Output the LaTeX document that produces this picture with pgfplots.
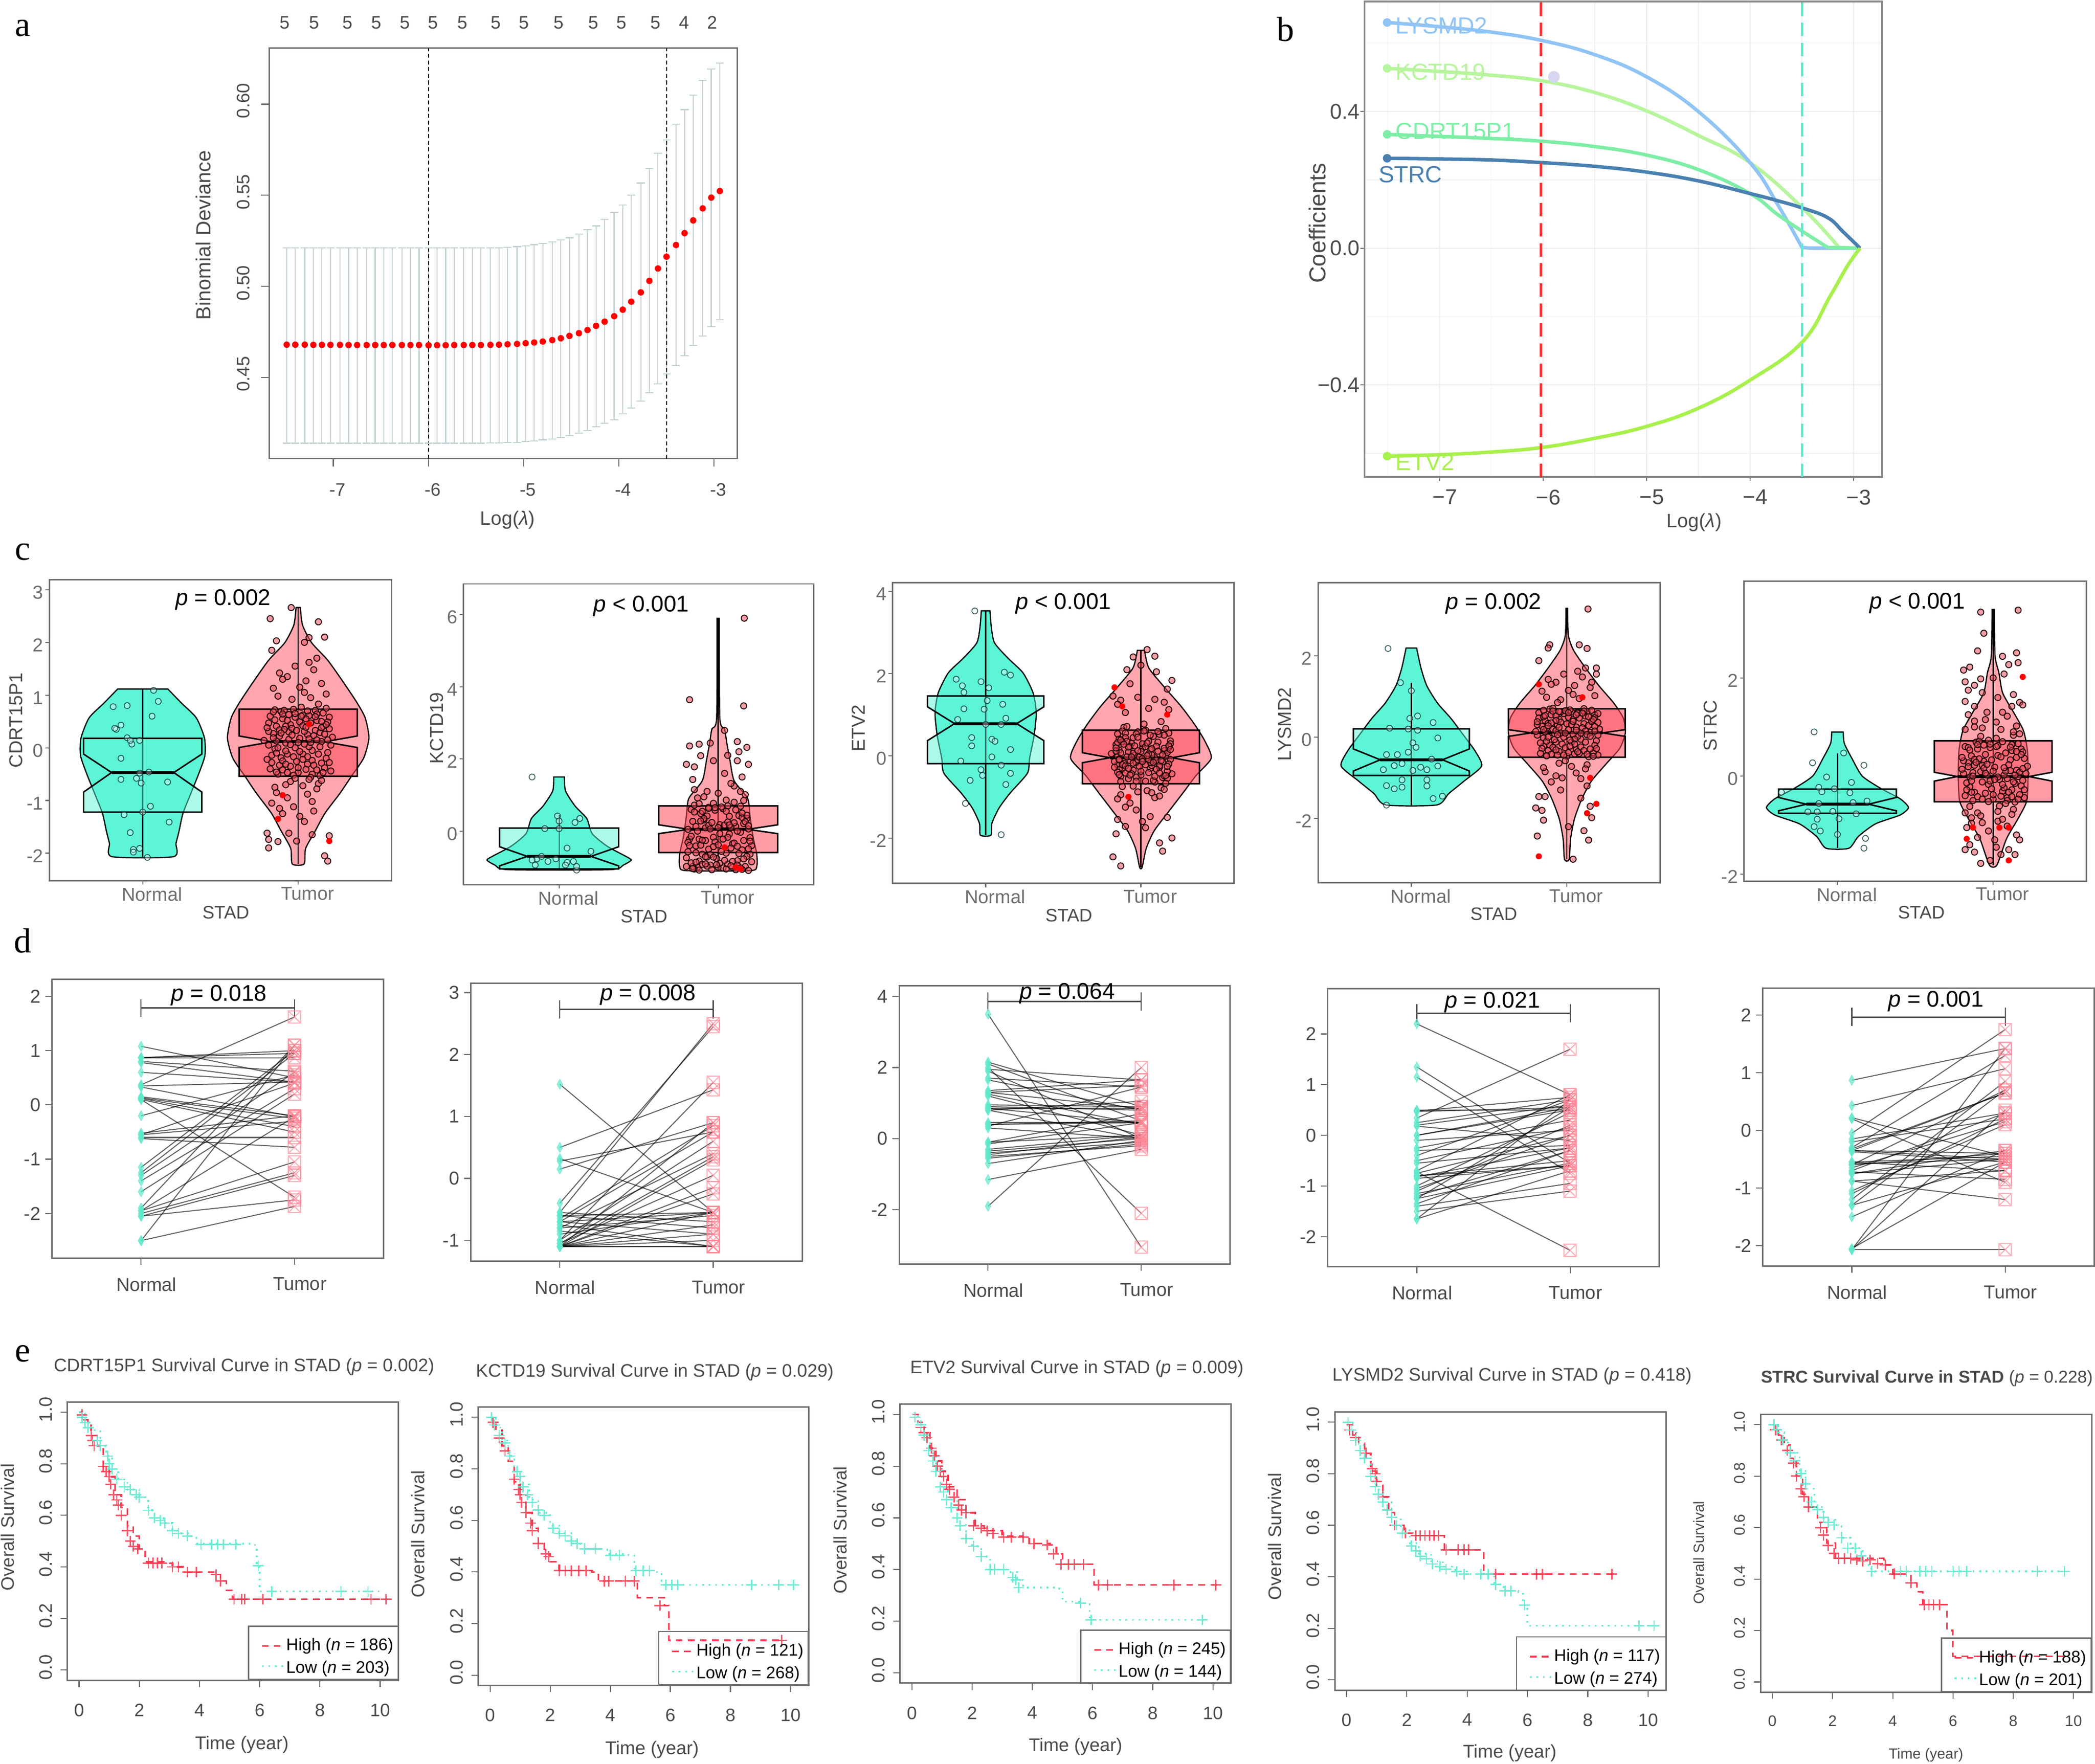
\documentclass[border=0pt]{standalone}
\usepackage{fontspec}
\setmainfont{Liberation Sans}
\newfontfamily\serif{Liberation Serif}
\usepackage{pgfplots}
\usepackage{pgfplotstable}
\pgfplotsset{compat=1.18}
\definecolor{frame}{HTML}{6E6E6E}
\definecolor{tickc}{HTML}{4A4A4A}
\definecolor{grd}{HTML}{E8EEEC}
\definecolor{tealf}{HTML}{5CF5D6}
\definecolor{redf}{HTML}{FF4A5C}
\definecolor{violr}{HTML}{FFA6AE}
\definecolor{barc}{HTML}{C4D2D4}
\definecolor{mkN}{HTML}{5FE8CC}
\definecolor{mkT}{HTML}{FF8595}
\definecolor{ptTf}{HTML}{E8505F}
\definecolor{kmr}{HTML}{FF3850}
\definecolor{kmc}{HTML}{63EBD2}
\definecolor{lysc}{HTML}{8FC4F5}
\definecolor{kctc}{HTML}{B7F59C}
\definecolor{cdrc}{HTML}{7EEEA6}
\definecolor{strc}{HTML}{4A80B0}
\definecolor{etvc}{HTML}{A8F04C}
\definecolor{dotc}{HTML}{D6D6EE}

\pgfdeclareplotmark{sqx}{%
  \pgfpathrectangle{\pgfpoint{-\pgfplotmarksize}{-\pgfplotmarksize}}{\pgfpoint{2\pgfplotmarksize}{2\pgfplotmarksize}}%
  \pgfpathmoveto{\pgfpoint{-\pgfplotmarksize}{-\pgfplotmarksize}}\pgfpathlineto{\pgfpoint{\pgfplotmarksize}{\pgfplotmarksize}}%
  \pgfpathmoveto{\pgfpoint{-\pgfplotmarksize}{\pgfplotmarksize}}\pgfpathlineto{\pgfpoint{\pgfplotmarksize}{-\pgfplotmarksize}}%
  \pgfusepathqstroke}

\pgfplotsset{
  table/row sep=\\,
  place/.style n args={4}{anchor=south west,at={(#1pt,1320pt-#2pt)},width=#3pt,height=#4pt,scale only axis},
  fr/.style={axis line style={draw=frame,line width=1.1pt},tick style={draw=frame,line width=.8pt},
    tick pos=left,tick align=outside,major tick length=5pt,
    /pgf/number format/assume math mode=true,
    tick label style={font=\fontsize{13.5}{15}\selectfont,text=tickc}},
  vio/.style={fr,xmin=.4,xmax=2.6,xtick={1,2},xticklabels={Normal,Tumor},
    tick label style={font=\fontsize{14}{16}\selectfont,text=tickc!80},
    xticklabel style={xshift=7pt,yshift=1.5pt},yticklabel style={yshift=-2pt,xshift=2pt},major tick length=3pt},
  pair/.style={fr,xmin=.42,xmax=2.58,xtick={1,2},xticklabels={Normal,Tumor},
    xticklabel style={xshift=4pt,yshift=-6pt},major tick length=5pt,
    tick label style={font=\fontsize{14}{16}\selectfont,text=tickc}},
  km/.style={fr,xmin=-.39,xmax=10.6,ymin=-.04,ymax=1.04,xtick={0,2,...,10},ytick={0,.2,.4,.6,.8,1},
    yticklabel style={rotate=90,anchor=south,xshift=2pt,yshift=3pt,/pgf/number format/fixed,/pgf/number format/fixed zerofill,/pgf/number format/precision=1},
    xticklabel style={yshift=-9pt}},
  vN/.style={draw=black,line width=.9pt,fill=tealf,smooth,tension=.4},
  vT/.style={draw=black,line width=.9pt,fill=violr,smooth,tension=.4},
  bN/.style={draw=black,line width=1.1pt,fill=tealf,fill opacity=.5},
  bT/.style={draw=black,line width=1.1pt,fill=redf,fill opacity=.55},
  lnk/.style={draw=black,draw opacity=.62,line width=.75pt},
  crv/.style={line width=2.6pt,smooth,tension=.7},
}
\newcommand\T[4][]{\node[inner sep=0pt,#1] at (#2pt,1320pt-#3pt) {#4};}
\newcommand\fz[1]{\fontsize{#1}{#1}\selectfont}
\newcommand\wh[3]{\addplot[black,line width=.9pt] coordinates {(#1,#2)(#1,#3)};}
% style, centre, half width, notch half width, q1, notch low, median, notch high, q3
\newcommand\nbox[9]{%
  \addplot[#1] table[x expr=\thisrow{w}+#2]{w y\\-#3 #9\\#3 #9\\#3 #8\\#4 #7\\#3 #6\\#3 #5\\-#3 #5\\-#3 #6\\-#4 #7\\-#3 #8\\} --cycle;
  \addplot[black,line width=2.2pt] table[x expr=\thisrow{w}+#2]{w y\\-#4 #7\\#4 #7\\};}
\newcommand\ptN[1]{\addplot[only marks,mark=*,mark size=2.2,mark options={fill=white,fill opacity=.35,draw=black!60!teal,draw opacity=.8,line width=.6pt}] coordinates {#1};}
\newcommand\ptT[1]{\addplot[only marks,mark=*,mark size=2.3,mark options={fill=ptTf,fill opacity=.55,draw=black!90!red,draw opacity=.95,line width=.7pt}] coordinates {#1};}
\newcommand\ptR[1]{\addplot[only marks,mark=*,mark size=2.1,color=red,mark options={fill=red,draw=red}] coordinates {#1};}
\newcommand\pairs[4]{% table, bracket y, lo, hi
  \addplot[quiver={u=1,v=\thisrow{t}-\thisrow{n}},lnk] table[x expr=1,y=n]{#1};
  \addplot[only marks,mark=diamond*,mark size=3.8,color=mkN,mark options={xscale=.75,fill=mkN,draw=mkN,opacity=.7}] table[x expr=1,y=n]{#1};
  \addplot[only marks,mark=sqx,mark size=4.6,color=mkT,mark options={draw=mkT,draw opacity=.65,line width=.8pt}] table[x expr=2,y=t]{#1};
  \addplot[tickc,line width=1pt] coordinates {(1,#2)(2,#2)};
  \addplot[tickc,line width=.8pt] coordinates {(1,#3)(1,#4)};
  \addplot[tickc,line width=.8pt] coordinates {(2,#3)(2,#4)};}
\newcommand\kmcurve[4]{%
  \addplot[kmr,const plot,dash pattern=on 5pt off 4pt,line width=1.2pt] coordinates {#1};
  \addplot[only marks,mark=+,mark size=4,color=kmr,mark options={draw=kmr,draw opacity=.85,line width=1pt}] coordinates {#2};
  \addplot[kmc,const plot,dash pattern=on 1.3pt off 3.6pt,line width=1.2pt] coordinates {#3};
  \addplot[only marks,mark=+,mark size=4,color=kmc,mark options={draw=kmc,draw opacity=.9,line width=1pt}] coordinates {#4};}
% legend box at right and bottom edge
\newcommand\kmt[4]{%
  \draw[frame,line width=1pt] (#1pt-112pt,1320pt-#2pt) rectangle ++(112pt,40pt);
  \draw[kmr,line width=1.2pt,dash pattern=on 5pt off 4pt] (#1pt-102pt,1320pt-#2pt+25.2pt) -- ++(17pt,0);
  \draw[kmc,line width=1.2pt,dash pattern=on 1.3pt off 3.6pt] (#1pt-102pt,1320pt-#2pt+10pt) -- ++(17pt,0);
  \node[inner sep=0pt,anchor=west] at (#1pt-84pt,1320pt-#2pt+25pt) {\fz{12.6}High (\textit{n} = #3)};
  \node[inner sep=0pt,anchor=west] at (#1pt-84pt,1320pt-#2pt+8pt) {\fz{12.6}Low (\textit{n} = #4)};}

\pgfplotstableread[row sep=\\]{
  x y hi lo\\
  -7.49 .4680 .5212 .4139\\-7.40 .4680 .5212 .4139\\-7.30 .4680 .5212 .4139\\-7.21 .4679 .5212 .4139\\-7.12 .4679 .5212 .4139\\
  -7.03 .4679 .5212 .4139\\-6.93 .4679 .5212 .4139\\-6.84 .4678 .5212 .4139\\-6.75 .4678 .5212 .4139\\-6.65 .4678 .5212 .4139\\
  -6.56 .4678 .5212 .4139\\-6.47 .4678 .5212 .4139\\-6.38 .4678 .5212 .4139\\-6.28 .4678 .5212 .4139\\-6.19 .4678 .5212 .4139\\
  -6.10 .4678 .5212 .4139\\-6.00 .4677 .5212 .4139\\-5.91 .4677 .5212 .4139\\-5.82 .4677 .5212 .4139\\-5.73 .4678 .5212 .4139\\
  -5.63 .4678 .5212 .4139\\-5.54 .4678 .5212 .4139\\-5.45 .4678 .5212 .4139\\-5.35 .4679 .5212 .4140\\
  -5.26 .4680 .5212 .4141\\-5.17 .4682 .5214 .4143\\-5.07 .4684 .5218 .4144\\-4.98 .4688 .5222 .4148\\-4.89 .4692 .5229 .4152\\
  -4.80 .4697 .5235 .4158\\-4.70 .4705 .5244 .4163\\-4.61 .4715 .5254 .4171\\-4.52 .4728 .5267 .4181\\-4.42 .4743 .5288 .4194\\
  -4.33 .4760 .5311 .4209\\-4.24 .4783 .5332 .4230\\-4.15 .4806 .5368 .4249\\-4.05 .4836 .5406 .4268\\-3.96 .4872 .5446 .4299\\
  -3.87 .4916 .5501 .4333\\-3.77 .4967 .5567 .4371\\-3.68 .5030 .5647 .4416\\-3.59 .5098 .5730 .4466\\-3.50 .5163 .5804 .4519\\
  -3.40 .5227 .5890 .4565\\-3.31 .5292 .5970 .4618\\-3.22 .5362 .6051 .4675\\-3.12 .5428 .6131 .4728\\-3.03 .5487 .6194 .4779\\-2.94 .5523 .6226 .4817\\}\cvA

\pgfplotstableread[row sep=\\]{n t\\
1.08 .5\\.87 .87\\.87 .95\\.87 1.0\\.8 .62\\.78 .42\\.6 .42\\.37 1.62\\.35 .42\\.33 -.22\\.15 -.2\\.13 -.25\\.12 -.4\\.1 -1.7\\.1 -.5\\-.2 .55\\-.52 -.2\\-.55 .4\\-.55 -.3\\-.6 -.6\\-.62 -.78\\-1.15 1.0\\-1.25 .95\\-1.3 .6\\-1.4 .3\\-1.6 .2\\-1.9 1.1\\-1.95 -.22\\-1.95 -1.05\\-2.0 -1.25\\-2.05 -1.3\\-2.05 -1.75\\-2.5 1.1\\-2.5 -1.87\\}\dA
\pgfplotstableread[row sep=\\]{n t\\
1.52 -.55\\.5 1.43\\.32 -.55\\.28 .75\\.15 .9\\-.4 2.45\\-.55 2.5\\-.55 -.7\\-.6 -.55\\-.6 -.8\\-.65 .85\\-.7 .75\\-.7 -.9\\-.7 -.55\\-.75 -1.1\\-.8 .4\\-.8 -.6\\-.85 -1.1\\-.9 -.55\\-1.0 1.55\\-1.0 .6\\-1.05 .35\\-1.05 .05\\-1.1 -.15\\-1.1 -.25\\-1.1 .9\\-1.1 -.55\\-1.1 -.75\\-1.1 -1.1\\-1.1 -1.1\\-1.1 -.9\\-1.1 -1.0\\-1.1 .3\\}\dB
\pgfplotstableread[row sep=\\]{n t\\
3.5 -3.05\\2.15 .9\\2.1 .5\\2.0 -2.1\\1.95 1.65\\1.9 0\\1.7 1.45\\1.65 .8\\1.35 1.65\\1.3 1.5\\1.3 .85\\1.25 .4\\1.2 .1\\.95 .9\\.9 .8\\.85 .85\\.85 .45\\.8 1.05\\.8 0\\.45 .45\\.4 .45\\.4 .5\\.35 1.45\\.3 0\\-.1 .7\\-.1 .1\\-.15 .45\\-.3 .1\\-.35 0\\-.4 -.1\\-.45 .05\\-.5 -.2\\-.55 -.15\\-.7 -.05\\-1.15 -.3\\-1.9 2.0\\}\dC
\pgfplotstableread[row sep=\\]{n t\\
2.2 .8\\1.35 -.55\\1.15 -.75\\.5 .5\\.48 .75\\.47 .55\\.34 1.7\\.25 .7\\.2 .6\\.18 -.1\\0 .55\\0 .5\\-.1 .1\\-.25 .3\\-.3 -.2\\-.4 .7\\-.5 .15\\-.55 -.25\\-.7 .8\\-.72 -2.27\\-.75 0\\-.8 -.6\\-.8 -.5\\-.82 -.25\\-.85 -.6\\-1 .45\\-1.05 0\\-1.1 .2\\-1.15 -.55\\-1.2 -.3\\-1.25 -.6\\-1.25 .55\\-1.35 -.3\\-1.4 -.95\\-1.5 -1.1\\-1.65 .7\\-1.65 -.7\\}\dD
\pgfplotstableread[row sep=\\]{n t\\
.87 1.42\\.43 1.07\\.22 -.45\\.2 -.9\\-.05 1.75\\-.15 .3\\-.2 .2\\-.3 1.3\\-.32 .65\\-.35 .65\\-.35 -.5\\-.35 -.4\\-.37 -.55\\-.55 -.45\\-.55 -.7\\-.58 -.5\\-.6 -.4\\-.6 .7\\-.65 .15\\-.7 .3\\-.72 -.85\\-.75 -.35\\-.75 -.5\\-.88 -.7\\-.88 -1.2\\-1.05 .1\\-1.1 .2\\-1.2 .85\\-1.3 .7\\-1.3 -.55\\-1.5 -.35\\-2.07 1.42\\-2.07 .35\\-2.07 -2.07\\-2.05 -.55\\}\dE

\begin{document}
\begin{tikzpicture}[x=1pt,y=1pt]
\path[use as bounding box] (0pt,0pt) rectangle (1568pt,1320pt);

% a
\begin{axis}[fr,place={201.6}{343.3}{350.4}{307.3},xmin=-7.672,xmax=-2.754,ymin=.4054,ymax=.6308,
  xtick={-7,-6,-5,-4,-3},ytick={.45,.5,.55,.6},major tick length=6pt,
  yticklabel style={rotate=90,anchor=south,xshift=2.5pt,yshift=5pt,/pgf/number format/fixed,/pgf/number format/fixed zerofill,/pgf/number format/precision=2},
  xticklabel style={xshift=3pt,yshift=-9pt}]
\addplot[only marks,mark=-,mark size=3,color=barc,mark options={draw=barc,line width=.8pt}] table[x=x,y=hi]{\cvA};
\addplot[only marks,mark=-,mark size=3,color=barc,mark options={draw=barc,line width=.8pt}] table[x=x,y=lo]{\cvA};
\addplot[only marks,mark=*,mark size=2.2,color=red,mark options={fill=red,draw=red},
  error bars/.cd,y dir=both,y explicit,error mark=none,error bar style={draw=barc,line width=.8pt}]
  table[x=x,y=y,y error plus expr=\thisrow{hi}-\thisrow{y},y error minus expr=\thisrow{y}-\thisrow{lo}]{\cvA};
\addplot[black,dash pattern=on 3pt off 2pt,line width=.7pt] coordinates {(-6,.4054)(-6,.6308)};
\addplot[black,dash pattern=on 3pt off 2pt,line width=.7pt] coordinates {(-3.5,.4054)(-3.5,.6308)};
\end{axis}

% b
\begin{axis}[fr,place={1021.3}{357}{387.3}{356},xmin=-7.724,xmax=-2.724,ymin=-.669,ymax=.722,
  xtick={-7,-6,-5,-4,-3},xticklabels={−7,−6,−5,−4,−3},ytick={-.4,0,.4},yticklabels={−0.4,0.0,0.4},
  minor xtick={-7.5,-6.5,-5.5,-4.5,-3.5},minor ytick={-.6,-.2,.2,.6},grid=both,
  grid style={draw=grd,line width=.8pt},minor grid style={draw=grd!70,line width=.6pt},
  minor tick length=0pt,major tick length=3pt,axis line style={draw=frame!80,line width=1.4pt},
  tick label style={font=\fz{16},text=tickc},xticklabel style={xshift=4pt,yshift=-3pt},yticklabel style={xshift=3pt}]
\addplot[kctc,crv] coordinates {(-7.506,.526)(-7.01,.517)(-6.5,.506)(-6.02,.49)(-5.52,.457)(-5.01,.403)(-4.5,.33)(-4,.2505)(-3.497,.119)(-3.14,.002)};
\addplot[kctc,line width=2.6pt] coordinates {(-3.14,.002)(-2.936,0)};
\addplot[lysc,crv] coordinates {(-7.506,.66)(-7.01,.648)(-6.5,.632)(-6.02,.608)(-5.52,.568)(-5.01,.503)(-4.5,.4)(-4,.2505)(-3.735,.129)(-3.497,.002)};
\addplot[lysc,line width=2.6pt] coordinates {(-3.497,.002)(-3.395,0)(-2.936,0)};
\addplot[cdrc,crv] coordinates {(-7.506,.333)(-7.01,.327)(-6.5,.321)(-6.02,.313)(-5.52,.298)(-5.01,.273)(-4.5,.23)(-4,.16)(-3.735,.099)(-3.497,.05)(-3.247,.002)};
\addplot[cdrc,line width=2.6pt] coordinates {(-3.247,.002)(-2.936,0)};
\addplot[strc,crv] coordinates {(-7.506,.263)(-7.01,.261)(-6.5,.258)(-6.02,.2505)(-5.52,.24)(-5.01,.223)(-4.5,.197)(-4,.16)(-3.735,.139)(-3.497,.118)(-3.247,.089)(-3.1,.048)(-2.936,0)};
\addplot[etvc,crv] coordinates {(-7.506,-.608)(-7.01,-.604)(-6.5,-.596)(-6.02,-.583)(-5.52,-.557)(-5.01,-.522)(-4.5,-.468)(-4,-.386)(-3.497,-.275)(-3.225,-.14)(-3.055,-.05)(-2.936,0)};
\addplot[only marks,mark=*,mark size=3,lysc] coordinates {(-7.506,.66)};
\addplot[only marks,mark=*,mark size=3,kctc] coordinates {(-7.506,.526)};
\addplot[only marks,mark=*,mark size=3,cdrc] coordinates {(-7.506,.333)};
\addplot[only marks,mark=*,mark size=3,strc] coordinates {(-7.506,.263)};
\addplot[only marks,mark=*,mark size=3,etvc] coordinates {(-7.506,-.608)};
\addplot[only marks,mark=*,mark size=4.2,color=dotc,mark options={fill=dotc,draw=dotc}] coordinates {(-5.895,.501)};
\addplot[color=red!80!white,line width=1.8pt,dash pattern=on 10pt off 5pt] coordinates {(-6.02,-.669)(-6.02,.722)};
\addplot[color=kmc,line width=1.8pt,dash pattern=on 10pt off 5pt] coordinates {(-3.497,-.669)(-3.497,.722)};
\end{axis}

% c
\begin{axis}[vio,place={37}{659}{256}{225},ymin=-2.519,ymax=3.186,ytick={-2,-1,0,1,2,3}]
\addplot[vN] table[x expr=\thisrow{w}+1]{w y\\.162 1.114\\.248 .852\\.345 .567\\.397 .186\\.4 -.148\\.362 -.481\\.31 -.862\\.259 -1.243\\.234 -1.576\\.214 -1.814\\.197 -2.067\\-.197 -2.067\\-.214 -1.814\\-.234 -1.576\\-.259 -1.243\\-.31 -.862\\-.362 -.481\\-.4 -.148\\-.397 .186\\-.345 .567\\-.248 .852\\-.162 1.114\\} --cycle;
\wh{1}{1.11}{-2.07}
\nbox{bN}{1}{.38}{.2}{-1.22}{-.84}{-.47}{-.12}{.18}
\ptN{(1.07,1.09)(1.1,.88)(.81,.78)(.9,.8)(1.06,.6)(.86,.43)(.83,.35)(.9,.19)(.98,.14)(.93,.07)(.86,-.2)(1.04,-.46)(.98,-.48)(.86,-.6)(.96,-.58)(.99,-.67)(1.16,-.65)(1.05,-1.11)(1,-1.22)(.88,-1.27)(1.17,-1.41)(.92,-1.61)(.94,-1.93)(.98,-1.91)(1.03,-2.08)(.94,-1.98)(.92,.14)(.82,.37)}
\addplot[vT] table[x expr=\thisrow{w}+2]{w y\\.014 2.662\\.028 2.329\\.086 1.995\\.19 1.662\\.293 1.233\\.379 .852\\.431 .567\\.455 .186\\.421 -.195\\.345 -.529\\.269 -.862\\.172 -1.243\\.11 -1.576\\.048 -1.91\\.038 -2.205\\-.038 -2.205\\-.048 -1.91\\-.11 -1.576\\-.172 -1.243\\-.269 -.862\\-.345 -.529\\-.421 -.195\\-.455 .186\\-.431 .567\\-.379 .852\\-.293 1.233\\-.19 1.662\\-.086 1.995\\-.028 2.329\\-.014 2.662\\} --cycle;
\wh{2}{2.66}{-2.2}
\nbox{bT}{2}{.38}{.17}{-.54}{.005}{.114}{.224}{.733}
\ptT{(1.955,2.66)(1.82,2.45)(2.13,2.39)(2.17,2.1)(1.86,2.03)(1.83,1.85)(2.07,2.09)(2.04,2)(1.8,-1.62)(1.81,-1.74)(1.87,-1.78)(1.81,-1.9)(2.2,-1.67)(2.17,-2.05)(2.19,-2.15)(2.09,-1.65)(1.99,-1.77)(1.94,-1.62)
(2.03,.62)(1.86,.41)(2.18,.75)(1.93,-.12)(2.11,.33)(1.81,.05)(2.06,-.31)(1.98,.58)(2.15,.12)(1.89,.69)(2.21,-.44)(1.84,.27)(2.09,-.05)(1.95,.44)(2.13,.83)(1.8,-.22)(2.01,.18)(2.17,-.38)(1.91,.71)(2.07,.02)(1.87,-.5)(2.2,.36)(1.97,-.17)(2.12,.52)(1.82,.6)(2.05,-.41)(1.92,.09)(2.16,.66)(1.88,-.33)(2.1,.23)(1.78,.14)(2.02,.77)(2.19,-.09)(1.94,.3)(2.14,-.53)(1.85,-.02)(2.08,.47)(1.99,-.26)(2.22,.2)(1.9,.55)
(1.96,.37)(2.14,.29)(1.83,-.14)(2.04,.07)(1.9,-.42)(2.11,.71)(1.86,.13)(2.18,-.2)(2.0,-.47)(1.93,.52)(2.07,.61)(1.81,.47)(2.16,.41)(1.98,.0)(2.09,-.24)(1.88,.34)(2.03,-.12)(2.2,.58)(1.95,-.35)(2.12,.15)(1.85,.72)(2.06,.25)(1.92,-.06)(2.15,-.29)(2.01,.49)(1.89,-.19)
(1.84,.68)(2.12,.64)(1.97,.73)(2.06,.7)(1.9,.64)(2.19,.49)(1.81,.31)(2.03,.42)(1.94,.16)(2.15,.38)(2.08,.1)(1.88,.22)(1.99,.33)(2.21,.05)(1.83,-.28)(2.05,.55)(1.92,.41)(2.17,.26)(2.01,-.07)(1.86,-.1)(2.13,-.12)(1.95,.06)(2.1,-.33)(1.8,.38)(2.04,.31)(1.9,-.25)(2.18,.44)(1.98,.65)(2.07,.17)(1.85,.53)(2.14,.02)(2.0,-.38)(1.93,-.47)(2.09,-.5)(1.87,.0)(2.2,-.28)(1.96,.24)(2.11,.59)(1.82,-.4)(2.06,-.17)(1.91,.35)(2.16,-.47)(2.02,.6)(1.89,.28)(2.12,-.42)(1.97,-.52)(2.05,.39)(1.94,.63)(2.19,.15)(1.84,.19)(2.08,-.56)(2.0,.1)(1.92,-.31)(2.15,.5)(1.86,-.46)(2.03,-.22)
(2.04,1.05)(1.87,.98)(2.15,1.22)(1.93,1.35)(2.1,1.48)(1.96,.92)(2.18,1.02)(1.84,1.13)(2.07,1.62)(1.9,1.3)(2.12,1.7)(2.01,1.15)(1.98,1.55)(2.05,1.27)(1.88,1.42)(2.08,.95)
(2.03,-.72)(1.86,-.85)(2.13,-.68)(1.93,-.95)(2.09,-1.02)(1.85,-.75)(1.97,-1.12)(2.06,-.88)(1.9,-1.25)(2.12,-.78)(1.83,-1.05)(2.01,-1.3)(2.1,-1.2)(1.95,-.64)(2.04,-1.4)(1.88,-1.15)(2.07,-.6)(1.92,-.7)(2.15,-.62)(1.98,-.58)}
\ptR{(2.2,-1.77)(1.87,-1.35)(1.9,-.9)(2.07,.45)}
\end{axis}

\begin{axis}[vio,place={347}{662}{262}{225},ymin=-1.48,ymax=6.85,ytick={0,2,4,6}]
\addplot[vN] table[x expr=\thisrow{w}+1]{w y\\.034 1.5\\.04 1.117\\.1 .698\\.174 .349\\.208 -.07\\.302 -.419\\.419 -.698\\.453 -.803\\.403 -.942\\.319 -1.068\\-.319 -1.068\\-.403 -.942\\-.453 -.803\\-.419 -.698\\-.302 -.419\\-.208 -.07\\-.174 .349\\-.1 .698\\-.04 1.117\\-.034 1.5\\} --cycle;
\wh{1}{.45}{-1.07}
\nbox{bN}{1}{.374}{.2}{-1.047}{-.963}{-.7}{-.433}{.084}
\ptN{(.83,1.5)(.99,.42)(1,.28)(1.13,.35)(1.1,.24)(.91,.07)(1,.07)(1.05,-.47)(1.2,-.56)(.86,-.77)(.89,-.7)(.85,-.94)(1.05,-.87)(1.09,-.84)(1.11,-1.08)(1.04,-.94)(.98,-.77)(1.11,-.98)(.93,-.84)(.83,-.8)}
\addplot[vT] table[x expr=\thisrow{w}+2]{w y\\.007 5.897\\.01 3.14\\.04 2.826\\.054 2.44\\.074 1.954\\.1 1.396\\.185 .907\\.2 .419\\.218 -.14\\.242 -.628\\.242 -.977\\.2 -1.096\\-.2 -1.096\\-.242 -.977\\-.242 -.628\\-.218 -.14\\-.2 .419\\-.185 .907\\-.1 1.396\\-.074 1.954\\-.054 2.44\\-.04 2.826\\-.01 3.14\\-.007 5.897\\} --cycle;
\wh{2}{5.9}{-1.08}
\nbox{bT}{2}{.374}{.185}{-.593}{-.07}{.05}{.175}{.698}
\ptT{(2.164,5.9)(1.82,3.64)(2.16,3.47)(2.04,2.79)(1.82,2.36)(1.88,2.41)(1.95,2.44)(2.12,2.48)(2.18,2.32)(1.8,1.85)(1.85,1.78)(1.84,1.43)(2.19,1.85)(2.12,1.95)(2.15,1.5)(1.89,2.09)(1.97,1.95)(2.17,1.01)(1.85,1.15)(2.04,1.6)(2.1,1.25)(1.93,1.1)(2.16,.85)(1.87,.92)(2.06,2.1)(2.13,2.2)
(2.03,.62)(1.86,-.41)(2.18,.35)(1.93,-.72)(2.11,.13)(1.81,.05)(2.06,-.91)(1.98,.58)(2.15,-.52)(1.89,.49)(2.2,-.64)(1.84,.27)(2.09,-.35)(1.95,-.94)(2.13,.43)(1.82,-.22)(2.01,.18)(2.17,-.98)(1.91,.31)(2.07,-.08)(1.87,-1.0)(2.19,.06)(1.97,-.17)(2.12,-.82)(1.83,.6)(2.05,-.61)(1.92,.09)(2.16,-.26)(1.88,-.83)(2.1,.23)(1.8,-.74)(2.02,.67)(2.19,-1.09)(1.94,-.5)(2.14,-.03)(1.85,-1.05)(2.08,-.47)(1.99,-.76)(2.21,-.4)(1.9,.55)
(1.96,-1.07)(2.14,.69)(1.83,-.14)(2.04,.17)(1.9,-.92)(2.11,-1.07)(1.86,.13)(2.18,-.7)(2.0,-1.0)(1.93,.42)(2.07,.41)(1.81,-.57)(2.16,.21)(1.98,-.3)(2.09,-.84)(1.88,-1.08)(2.03,-.22)(2.2,-.18)(1.95,-.65)(2.12,.0)(1.85,.72)(2.06,.25)(1.92,-.26)(2.15,-1.06)(2.01,-.89)(1.89,-.39)(1.97,.77)(2.05,.86)(1.91,.95)(2.1,.8)(2.0,1.05)(1.94,.66)(2.14,1.1)(2.08,1.32)(1.88,.76)
(1.84,-.98)(2.12,-.94)(1.97,-.43)(2.06,.7)(1.9,-.64)(2.19,-.49)(1.81,-.31)(2.03,-1.02)(1.94,.16)(2.15,.38)(2.08,.1)(1.88,-.22)(1.99,-.93)(2.21,-.85)(1.83,-.88)(2.05,.55)(1.92,-.71)(2.17,.26)(2.01,-.07)(1.86,-.6)(2.13,-.62)(1.95,.06)(2.1,-.33)(1.8,-.98)(2.04,-.81)(1.9,-.25)(2.18,.44)(1.98,.65)(2.07,.17)(1.85,.53)(2.14,-1.02)(2.0,-.38)(1.93,-.97)(2.09,-1.0)(1.87,.0)(2.2,-.28)(1.96,.24)(2.11,.59)(1.82,-.4)(2.06,-.17)(1.91,.35)(2.16,-.77)(2.02,-.56)(1.89,.28)(2.12,-.42)(1.97,-.72)(2.05,-1.05)(1.94,.63)(2.19,.15)(1.84,-1.04)(2.08,-.96)(2.0,.1)(1.92,-.91)(2.15,.5)(1.86,-.86)(2.03,-.22)}
\ptR{(2.14,-1.05)(2.11,-1.0)(2.04,-.45)}
\end{axis}

\begin{axis}[vio,place={668}{661}{255.6}{225},ymin=-3.1,ymax=4.21,ytick={-2,0,2,4}]
\addplot[vN] table[x expr=\thisrow{w}+1]{w y\\.028 3.524\\.037 3.11\\.057 2.744\\.142 2.378\\.241 2.012\\.306 1.524\\.326 1.037\\.312 .488\\.283 -.061\\.269 -.427\\.156 -.915\\.085 -1.28\\.04 -1.646\\.034 -1.933\\-.034 -1.933\\-.04 -1.646\\-.085 -1.28\\-.156 -.915\\-.269 -.427\\-.283 -.061\\-.312 .488\\-.326 1.037\\-.306 1.524\\-.241 2.012\\-.142 2.378\\-.057 2.744\\-.037 3.11\\-.028 3.524\\} --cycle;
\wh{1}{3.52}{-1.93}
\nbox{bN}{1}{.375}{.2}{-.195}{.366}{.78}{1.189}{1.451}
\ptN{(.93,3.52)(.81,1.86)(.97,1.8)(.85,1.7)(1.02,1.65)(.86,1.54)(1.12,2.03)(1.16,1.96)(1.01,1.34)(1.11,1.25)(.86,1.14)(.99,1.13)(.82,.88)(1.13,.91)(1,.76)(1.1,.76)(.91,.44)(1.04,.4)(1.06,.35)(.91,.24)(1.16,.15)(1.04,-.03)(.84,-.13)(1.1,-.23)(.97,-.34)(.98,-.48)(1.16,-.43)(.9,-.6)(1.13,-.7)(.87,-1.16)(1.1,-1.92)}
\addplot[vT] table[x expr=\thisrow{w}+2]{w y\\.023 2.561\\.051 2.134\\.156 1.646\\.255 1.22\\.34 .793\\.411 .366\\.453 -.061\\.354 -.488\\.269 -.915\\.17 -1.402\\.085 -1.829\\.034 -2.256\\.008 -2.713\\-.008 -2.713\\-.034 -2.256\\-.085 -1.829\\-.17 -1.402\\-.269 -.915\\-.354 -.488\\-.453 -.061\\-.411 .366\\-.34 .793\\-.255 1.22\\-.156 1.646\\-.051 2.134\\-.023 2.561\\} --cycle;
\wh{2}{2.56}{-2.71}
\nbox{bT}{2}{.377}{.2}{-.683}{-.171}{-.049}{.073}{.622}
\ptT{(1.82,-2.46)(1.87,-2.68)(2.14,-2.32)(2.12,-2.12)(2.2,-2)(1.84,-1.9)(2.04,2.58)(2.09,2.42)(2.1,2.04)(1.91,2.09)(2.2,1.83)(1.82,1.45)(1.87,1.35)(2.17,1.62)(2.15,1.3)(1.93,1.75)(2.0,2.2)(1.95,2.4)(2.05,1.15)(1.9,1.05)(2.18,1.12)(1.85,1.25)(1.98,1.42)(2.09,1.37)
(2.03,.62)(1.86,.41)(2.18,.55)(1.93,-.12)(2.11,.33)(1.81,.05)(2.06,-.31)(1.98,.58)(2.15,.12)(1.89,.69)(2.2,-.44)(1.84,.27)(2.09,-.05)(1.95,.44)(2.13,.83)(1.85,-.22)(2.01,.18)(2.17,-.38)(1.91,.71)(2.07,.02)(1.87,-.5)(2.19,.36)(1.97,-.17)(2.12,.52)(1.88,.6)(2.05,-.41)(1.92,.09)(2.16,.66)(1.88,-.33)(2.1,.23)(1.86,.14)(2.02,.77)(2.19,-.09)(1.94,.3)(2.14,-.53)(1.85,-.02)(2.08,.47)(1.99,-.26)(2.18,.2)(1.9,.55)
(1.96,.02)(2.14,-.15)(1.83,-.14)(2.04,-.07)(1.9,-.42)(2.11,.11)(1.86,-.33)(2.18,-.2)(2.0,-.47)(1.93,.22)(2.07,-.24)(1.87,.07)(2.16,-.01)(1.98,-.1)(2.09,-.64)(1.88,.34)(2.03,-.62)(2.17,.08)(1.95,-.35)(2.12,-.28)(1.85,.32)(2.06,.15)(1.92,-.56)(2.15,-.49)(2.01,.29)(1.89,-.19)(1.97,-.52)(2.05,.04)(1.91,-.03)(2.1,-.11)
(1.86,-.08)(2.12,-.24)(1.97,.53)(2.06,.5)(1.9,.44)(2.19,.29)(1.84,.11)(2.03,.22)(1.94,-.44)(2.15,.18)(2.08,-.6)(1.88,-.22)(1.99,-.03)(2.17,-.55)(1.83,-.28)(2.05,.35)(1.92,.21)(2.17,-.26)(2.01,-.07)(1.86,-.1)(2.13,-.12)(1.95,.06)(2.1,-.33)(1.87,.38)(2.04,.31)(1.9,-.25)(2.18,.24)(1.98,.45)(2.07,.17)(1.85,.53)(2.14,.02)(2.0,-.38)(1.93,-.47)(2.09,-.5)(1.87,-.63)(2.16,-.48)(1.96,.24)(2.11,.59)(1.85,-.4)(2.06,-.17)(1.91,.35)(2.16,-.67)(2.02,.6)(1.89,.28)(2.12,-.42)(1.97,-.62)(2.05,-.09)(1.94,-.03)(2.19,.15)(1.84,.19)(2.08,-.16)(2.0,.1)(1.92,-.31)(2.15,.5)(1.86,-.46)(2.03,-.22)(1.95,-.18)(2.01,-.14)(1.98,.12)(2.04,.0)
(2.04,-.85)(1.87,-.95)(2.13,-.78)(1.93,-1.15)(2.09,-1.02)(1.88,-.75)(1.97,-1.32)(2.06,-1.48)(1.9,-1.25)(2.12,-.98)(1.85,-1.55)(2.01,-1.6)(2.17,-1.5)(1.95,-.74)(2.03,-1.75)(1.9,-1.72)(2.07,-.9)(2.15,-.82)(1.85,-1.05)(1.98,-.88)}
\ptR{(1.83,1.66)(1.88,1.2)(1.92,-1.0)(2.17,1.0)}
\end{axis}

\begin{axis}[vio,place={986.5}{660.7}{256}{224.7},ymin=-3.58,ymax=3.8,ytick={-2,0,2}]
\addplot[vN] table[x expr=\thisrow{w}+1]{w y\\.034 2.19\\.062 1.698\\.099 1.265\\.169 .833\\.254 .463\\.339 .031\\.41 -.34\\.452 -.71\\.339 -1.08\\.24 -1.389\\.164 -1.667\\-.164 -1.667\\-.24 -1.389\\-.339 -1.08\\-.452 -.71\\-.41 -.34\\-.339 .031\\-.254 .463\\-.169 .833\\-.099 1.265\\-.062 1.698\\-.034 2.19\\} --cycle;
\wh{1}{1.33}{-1.67}
\nbox{bN}{1}{.373}{.2}{-.944}{-.833}{-.556}{-.29}{.204}
\ptN{(.85,2.18)(.93,1.34)(1,1.14)(1.04,.52)(.99,.46)(1.14,.36)(.86,.22)(.98,.2)(1.04,.17)(1.17,-.02)(1.01,-.14)(1.03,-.25)(.98,-.37)(.84,-.43)(.91,-.43)(1.13,-.54)(.94,-.65)(.89,-.7)(1.17,-.71)(.82,-.8)(1.01,-.82)(1.06,-.74)(1.1,-.8)(.94,-1.05)(1.1,-1.05)(.84,-1.19)(.89,-1.27)(.94,-1.23)(1.1,-1.2)(1.2,-1.45)(1.14,-1.51)(.84,-1.67)}
\addplot[vT] table[x expr=\thisrow{w}+2]{w y\\.005 3.167\\.01 2.5\\.044 2.13\\.121 1.698\\.206 1.265\\.303 .833\\.364 .463\\.376 .093\\.34 -.278\\.255 -.648\\.158 -1.08\\.097 -1.512\\.049 -2.006\\.024 -2.5\\.015 -3.006\\-.015 -3.006\\-.024 -2.5\\-.049 -2.006\\-.097 -1.512\\-.158 -1.08\\-.255 -.648\\-.34 -.278\\-.376 .093\\-.364 .463\\-.303 .833\\-.206 1.265\\-.121 1.698\\-.044 2.13\\-.01 2.5\\-.005 3.167\\} --cycle;
\wh{2}{3.167}{-3.0}
\nbox{bT}{2}{.376}{.23}{-.494}{.019}{.105}{.185}{.698}
\ptT{(2.136,3.15)(1.89,2.27)(1.88,2.19)(2.08,2.27)(2.13,2.18)(1.82,1.88)(2.19,1.7)(1.81,-2.43)(2.14,-2.53)(2.04,-3.0)(2.11,-2.3)(1.8,-1.74)(1.82,-1.46)(1.86,-1.46)(1.85,-2.04)(2.16,-1.98)(2.15,-1.7)(1.84,-1.8)(2.01,-2.2)(1.96,-1.3)(2.09,-1.5)(1.9,-1.1)(2.13,-1.2)
(2.03,.62)(1.86,.41)(2.18,.55)(1.93,-.12)(2.11,.33)(1.81,.05)(2.06,-.31)(1.98,.58)(2.15,.12)(1.89,.69)(2.2,-.44)(1.84,.27)(2.09,-.05)(1.95,.44)(2.13,.63)(1.85,-.22)(2.01,.18)(2.17,-.38)(1.91,.71)(2.07,.02)(1.87,-.45)(2.2,.36)(1.97,-.17)(2.12,.52)(1.82,.6)(2.05,-.41)(1.92,.09)(2.16,.66)(1.88,-.33)(2.1,.23)(1.8,.14)(2.02,.67)(2.19,-.09)(1.94,.3)(2.14,-.48)(1.85,-.02)(2.08,.47)(1.99,-.26)(2.21,.2)(1.9,.55)
(1.96,.37)(2.14,.29)(1.83,-.14)(2.04,.07)(1.9,-.42)(2.11,.7)(1.86,.13)(2.18,-.2)(2.0,-.47)(1.93,.52)(2.07,.61)(1.82,.47)(2.16,.41)(1.98,.0)(2.09,-.24)(1.88,.34)(2.03,-.12)(2.2,.58)(1.95,-.35)(2.12,.15)(1.85,.5)(2.06,.25)(1.92,-.06)(2.15,-.29)(2.01,.49)(1.89,-.19)(1.96,.1)(2.05,-.05)(1.91,.19)(2.13,.06)
(1.85,.66)(2.11,.64)(1.96,.62)(2.07,.59)(1.91,.64)(2.18,.48)(1.81,.31)(2.04,.43)(1.93,.16)(2.16,.38)(2.09,.1)(1.87,.22)(2.0,.33)(2.2,.05)(1.84,-.28)(2.06,.55)(1.93,.41)(2.18,.26)(2.02,-.07)(1.87,-.1)(2.12,-.12)(1.94,.06)(2.11,-.33)(1.81,.38)(2.03,.31)(1.91,-.25)(2.17,.44)(1.99,.65)(2.06,.17)(1.86,.53)(2.15,.02)(2.01,-.38)(1.94,-.44)(2.08,-.4)(1.88,.0)(2.19,-.28)(1.95,.24)(2.1,.59)(1.83,-.4)(2.05,-.17)(1.9,.35)(2.17,-.47)(2.01,.6)(1.88,.28)(2.13,-.42)(1.98,-.44)(2.04,.39)(1.95,.63)(2.18,.15)(1.85,.19)(2.07,-.36)(1.99,.1)(1.93,-.31)(2.14,.5)(1.87,-.46)(2.02,-.22)
(2.04,1.05)(1.87,.98)(2.15,1.22)(1.93,1.35)(2.1,1.48)(1.96,.92)(2.18,1.02)(1.84,1.13)(2.07,1.62)(1.9,1.3)(2.12,1.7)(2.01,1.15)(1.98,1.55)(2.05,1.27)(1.88,1.42)(2.08,.95)(2.19,1.55)(2.16,1.35)(1.94,.85)
(2.03,-.72)(1.86,-.85)(2.13,-.68)(1.93,-.95)(2.09,-1.02)(1.85,-.75)(1.97,-1.0)(2.06,-.88)(1.95,-.64)(2.12,-.78)(1.99,-.58)}
\ptR{(1.82,-2.93)(2.19,-1.64)(2.13,-1.87)(1.82,1.3)(2.1,.98)(2.15,-1.0)}
\end{axis}

\begin{axis}[vio,place={1305.3}{659.4}{256.4}{224.4},ymin=-2.14,ymax=3.97,ytick={-2,0,2}]
\addplot[vN] table[x expr=\thisrow{w}+1]{w y\\.037 .897\\.044 .667\\.093 .359\\.159 0\\.28 -.256\\.402 -.462\\.456 -.641\\.402 -.795\\.244 -.974\\.134 -1.231\\.073 -1.472\\-.073 -1.472\\-.134 -1.231\\-.244 -.974\\-.402 -.795\\-.456 -.641\\-.402 -.462\\-.28 -.256\\-.159 0\\-.093 .359\\-.044 .667\\-.037 .897\\} --cycle;
\wh{1}{.46}{-1.47}
\nbox{bN}{1}{.378}{.2}{-.759}{-.708}{-.574}{-.436}{-.267}
\ptN{(.85,.9)(1.04,.47)(.84,.27)(1.17,.22)(.93,-.02)(1.09,-.13)(.88,-.23)(.98,-.26)(.9,-.32)(1.08,-.34)(.88,-.56)(1.1,-.54)(1.19,-.51)(.81,-.73)(.87,-.73)(.97,-.72)(1.12,-.77)(.87,-.88)(1.01,-.87)(.85,-1.03)(.89,-1.12)(1,-1.19)(1.18,-1.27)(1.17,-1.47)(.64,-.33)}
\addplot[vT] table[x expr=\thisrow{w}+2]{w y\\.007 3.395\\.012 2.451\\.037 2.103\\.061 1.692\\.134 1.282\\.195 .923\\.22 .513\\.224 0\\.215 -.513\\.159 -.872\\.085 -1.282\\.024 -1.815\\-.024 -1.815\\-.085 -1.282\\-.159 -.872\\-.215 -.513\\-.224 0\\-.22 .513\\-.195 .923\\-.134 1.282\\-.061 1.692\\-.037 2.103\\-.012 2.451\\-.007 3.395\\} --cycle;
\wh{2}{3.4}{-1.82}
\nbox{bT}{2}{.378}{.23}{-.523}{-.103}{-.01}{.077}{.718}
\ptT{(1.92,3.34)(2.16,3.38)(1.94,2.91)(1.9,2.55)(2.15,2.51)(2.06,2.44)(2.16,2.31)(2.1,2.27)(1.81,2.16)(1.85,2.22)(2.07,2.08)(1.92,1.98)(1.82,1.92)(1.88,1.85)(2.0,2.0)(1.84,1.75)(1.93,1.7)(2.13,1.66)(2.17,1.5)(1.82,1.52)(2.03,1.6)(1.88,1.42)(2.12,1.42)(2.19,1.45)(1.96,1.3)(1.84,1.25)(2.09,1.22)(2.15,1.02)(1.88,1.12)(1.82,.95)(2.02,1.1)(1.93,.98)
(2.03,.62)(1.86,.41)(2.18,.55)(1.93,-.12)(2.11,.33)(1.81,.05)(2.06,-.31)(1.98,.58)(2.15,.12)(1.89,.69)(2.2,-.44)(1.84,.27)(2.09,-.05)(1.95,.44)(2.13,.83)(1.85,-.22)(2.01,.18)(2.17,-.38)(1.91,.71)(2.07,.02)(1.87,-.5)(2.2,.36)(1.97,-.17)(2.12,.52)(1.82,.6)(2.05,-.41)(1.92,.09)(2.16,.66)(1.88,-.33)(2.1,.23)(1.8,.14)(2.02,.77)(2.19,-.09)(1.94,.3)(2.14,-.53)(1.85,-.02)(2.08,.47)(1.99,-.26)(2.22,.2)(1.9,.55)
(1.96,.02)(2.14,-.15)(1.83,-.14)(2.04,-.07)(1.9,-.42)(2.11,.11)(1.86,-.33)(2.18,-.2)(2.0,-.47)(1.93,.22)(2.07,-.24)(1.87,.07)(2.16,-.01)(1.98,-.1)(2.09,-.44)(1.88,.34)(2.03,-.02)(2.17,.08)(1.95,-.35)(2.12,-.28)
(1.84,.58)(2.12,.64)(1.97,.73)(2.06,.7)(1.9,.64)(2.19,.49)(1.81,.31)(2.03,.42)(1.94,.16)(2.15,.38)(2.08,.1)(1.88,.22)(1.99,.33)(2.21,.05)(1.83,-.28)(2.05,.95)(1.92,.81)(2.17,.86)(2.01,-.07)(1.86,-.1)(2.13,-.12)(1.95,.06)(2.1,-.33)(1.8,.38)(2.04,-.61)(1.9,-.75)(2.18,.44)(1.98,.65)(2.07,.17)(1.85,.53)(2.14,.02)(2.0,-.38)(1.93,-.47)(2.09,-.5)(1.87,.0)(2.2,-.28)(1.96,.24)(2.11,.59)(1.82,-.4)(2.06,-.17)(1.91,.35)(2.16,-.47)(2.02,.6)(1.89,.28)(2.12,-.42)(1.97,-.52)(2.05,.39)(1.94,.63)(2.19,.15)(1.84,.19)(2.08,-.56)(2.0,.1)(1.92,-.81)(2.15,.5)(1.86,-.96)(2.03,-.92)(1.88,1.0)(2.13,.9)(1.95,1.15)(2.06,1.3)
(2.03,-.72)(1.86,-.85)(2.13,-.68)(1.93,-.95)(2.09,-1.02)(1.82,-.75)(1.97,-1.12)(2.06,-.88)(1.9,-1.25)(2.12,-.78)(1.83,-1.05)(2.01,-1.3)(2.15,-1.2)(1.85,-1.4)(2.17,-1.3)(1.88,-1.55)(2.1,-1.5)(1.82,-1.5)(2.14,-1.6)(1.92,-1.78)(1.98,-1.72)(2.05,-1.6)(2.02,-1.45)(1.85,-.62)}
\ptR{(2.19,2.02)(1.83,-1.28)(1.87,-1.05)(2.04,-1.05)(2.1,-1.05)(2.1,-1.72)}
\end{axis}

% d
\begin{axis}[pair,place={39}{941.5}{248}{208.5},ymin=-2.82,ymax=2.312,ytick={-2,-1,0,1,2}]
\pairs{\dA}{1.785}{1.623}{1.947}
\end{axis}
\begin{axis}[pair,place={352.4}{944}{248}{208.3},ymin=-1.339,ymax=3.155,ytick={-1,0,1,2,3}]
\pairs{\dB}{2.728}{2.586}{2.877}
\end{axis}
\begin{axis}[pair,place={673}{946}{247.7}{208.4},ymin=-3.524,ymax=4.303,ytick={-2,0,2,4}]
\pairs{\dC}{3.858}{3.604}{4.117}
\end{axis}
\begin{axis}[pair,place={993.8}{948}{247.9}{208},ymin=-2.593,ymax=2.893,ytick={-2,-1,0,1,2}]
\pairs{\dD}{2.41}{2.228}{2.584}
\end{axis}
\begin{axis}[pair,place={1319.4}{947.7}{247.9}{208.2},ymin=-2.359,ymax=2.469,ytick={-2,-1,0,1,2}]
\pairs{\dE}{1.966}{1.813}{2.126}
\end{axis}

% e
\begin{axis}[km,place={50.4}{1257.6}{247.6}{208.4}]
\kmcurve{(0,1)(.1,.97)(.3,.95)(.4,.91)(.6,.87)(.8,.79)(1,.75)(1.2,.68)(1.4,.63)(1.6,.56)(1.8,.52)(2,.47)(2.2,.42)(2.9,.415)(3.1,.4)(3.5,.38)(4.5,.37)(4.7,.345)(4.9,.31)(5.1,.275)(10.2,.275)}
{(.1,.99)(.4,.91)(.45,.89)(.5,.87)(.8,.79)(.9,.77)(1,.75)(1.05,.72)(1.15,.68)(1.25,.66)(1.3,.64)(1.4,.6)(1.6,.54)(1.7,.5)(1.8,.48)(1.95,.47)(2.3,.415)(2.45,.415)(2.6,.415)(2.75,.415)(3.1,.4)(3.3,.4)(3.6,.38)(3.9,.38)(4.55,.37)(4.7,.345)(5.15,.275)(5.4,.275)(5.5,.275)(6.1,.275)(9.7,.275)(10.2,.275)}
{(0,1)(.2,.96)(.4,.93)(.7,.87)(.9,.83)(1.1,.78)(1.3,.74)(1.6,.7)(2,.67)(2.3,.62)(2.5,.59)(2.8,.57)(3.1,.54)(3.3,.53)(3.7,.52)(3.9,.49)(5.7,.485)(5.9,.4)(6,.305)(10,.305)}
{(.1,.98)(.2,.96)(.3,.94)(.6,.89)(.7,.87)(.95,.83)(1,.8)(1.1,.78)(1.25,.74)(1.5,.71)(1.7,.7)(1.9,.68)(2,.67)(2.3,.62)(2.5,.59)(2.7,.58)(2.85,.57)(3.1,.54)(3.3,.53)(3.6,.52)(4.05,.487)(4.4,.487)(4.6,.487)(4.8,.487)(5.2,.487)(5.95,.405)(6.4,.305)(8.7,.305)(9.6,.305)}
\end{axis}
\begin{axis}[km,place={358}{1261.4}{247.2}{208.4}]
\kmcurve{(0,1)(.2,.95)(.4,.89)(.6,.83)(.8,.75)(1,.7)(1.2,.63)(1.4,.57)(1.6,.51)(1.8,.47)(2,.44)(2.3,.405)(3.4,.4)(3.6,.365)(4.7,.365)(4.9,.3)(5.8,.27)(5.95,.135)(9.7,.135)}
{(.1,.98)(.3,.92)(.5,.87)(.8,.76)(.95,.72)(1,.7)(1.05,.67)(1.2,.63)(1.35,.59)(1.4,.56)(1.6,.51)(1.85,.47)(1.95,.46)(2.3,.405)(2.5,.405)(2.7,.405)(2.95,.405)(3.2,.405)(3.8,.365)(3.95,.365)(4.5,.365)(4.8,.365)(5.65,.27)(9.7,.135)}
{(0,1)(.2,.96)(.4,.91)(.6,.85)(.8,.79)(1,.74)(1.3,.68)(1.6,.63)(2,.58)(2.3,.55)(2.7,.52)(3,.49)(3.5,.49)(3.9,.47)(4.6,.465)(4.8,.405)(5.5,.4)(5.7,.35)(10.1,.35)}
{(.05,1)(.15,.97)(.3,.93)(.5,.9)(.65,.85)(.9,.79)(1,.77)(1.1,.73)(1.25,.7)(1.4,.67)(1.6,.64)(1.8,.62)(2.1,.57)(2.3,.55)(2.5,.54)(2.7,.52)(2.9,.51)(3.15,.49)(3.5,.49)(4,.465)(4.3,.465)(4.85,.405)(5.1,.405)(5.3,.405)(5.85,.35)(6.05,.35)(6.25,.35)(8.7,.35)(9.6,.35)(10.1,.35)}
\end{axis}
\begin{axis}[km,place={673.7}{1259.7}{247.6}{208.8}]
\kmcurve{(0,1)(.2,.97)(.4,.93)(.6,.87)(.8,.82)(1,.78)(1.2,.72)(1.5,.67)(1.8,.62)(2.1,.57)(2.4,.55)(3,.53)(3.7,.52)(3.9,.5)(4.6,.495)(4.8,.46)(5,.42)(5.95,.42)(6.05,.34)(10.2,.34)}
{(.1,.99)(.3,.95)(.4,.93)(.5,.91)(.65,.87)(.75,.84)(.85,.8)(.95,.78)(1.05,.76)(1.15,.73)(1.25,.71)(1.4,.68)(1.55,.65)(1.65,.63)(1.8,.62)(2.05,.57)(2.3,.56)(2.5,.55)(2.7,.54)(3.05,.525)(3.3,.525)(3.7,.525)(4.05,.5)(4.5,.495)(4.7,.46)(4.95,.42)(5.2,.42)(5.4,.42)(5.7,.42)(6.2,.34)(6.5,.34)(8.7,.34)(10.1,.34)}
{(0,1)(.2,.96)(.4,.91)(.6,.85)(.8,.79)(1,.72)(1.2,.67)(1.5,.6)(1.8,.52)(2,.49)(2.3,.45)(2.6,.4)(3.2,.39)(3.5,.36)(3.7,.33)(4.9,.325)(5,.275)(5.6,.27)(5.9,.205)(9.7,.205)}
{(.1,.99)(.3,.96)(.4,.92)(.55,.86)(.7,.82)(.8,.78)(.95,.72)(1.05,.7)(1.15,.67)(1.3,.64)(1.5,.6)(1.6,.57)(1.8,.52)(2.05,.49)(2.3,.45)(2.6,.4)(2.75,.4)(3.05,.4)(3.35,.37)(3.45,.36)(3.55,.33)(5.6,.27)(5.95,.205)(9.65,.205)}
\end{axis}
\begin{axis}[km,place={999}{1264.9}{248}{208.2}]
\kmcurve{(0,.99)(.2,.95)(.4,.92)(.6,.88)(.8,.81)(1,.77)(1.2,.71)(1.4,.65)(1.6,.6)(1.9,.57)(2.2,.56)(3.2,.56)(3.25,.505)(4.5,.505)(4.55,.41)(8.8,.41)}
{(.1,.97)(.3,.94)(.65,.88)(.85,.82)(.95,.8)(1,.77)(1.2,.71)(1.35,.66)(1.6,.6)(1.95,.57)(2.3,.56)(2.45,.56)(2.6,.56)(2.75,.56)(2.9,.56)(3.05,.56)(3.3,.505)(3.7,.505)(3.9,.505)(4.05,.505)(4.95,.41)(6.3,.41)(6.5,.41)(8.8,.41)}
{(0,1)(.2,.96)(.4,.91)(.6,.86)(.8,.79)(1,.74)(1.2,.69)(1.5,.63)(1.8,.58)(2.1,.53)(2.4,.49)(2.8,.46)(3.2,.44)(3.6,.42)(4,.41)(4.6,.41)(4.9,.37)(5.2,.345)(5.7,.34)(5.85,.29)(6,.21)(10.2,.21)}
{(.05,1)(.15,.97)(.3,.93)(.45,.89)(.6,.86)(.8,.79)(.95,.75)(1.05,.72)(1.2,.69)(1.35,.66)(1.5,.63)(1.65,.6)(1.85,.57)(2.15,.52)(2.3,.5)(2.45,.48)(2.65,.47)(2.85,.45)(3.1,.44)(3.3,.43)(3.65,.42)(3.9,.41)(4.45,.41)(4.7,.41)(4.95,.37)(5.25,.345)(5.45,.345)(5.9,.29)(9.7,.21)(10.2,.21)}
\end{axis}
\begin{axis}[km,place={1317.7}{1266.5}{247.7}{208},tick label style={font=\fz{11.5}}]
\kmcurve{(0,1)(.2,.96)(.4,.92)(.6,.87)(.8,.8)(1,.73)(1.2,.68)(1.5,.62)(1.8,.54)(2.1,.48)(3.7,.455)(4,.42)(4.6,.385)(4.8,.35)(5,.3)(5.7,.3)(5.8,.2)(6,.1)(9.7,.1)}
{(.1,.98)(.3,.94)(.5,.9)(.7,.85)(.8,.8)(.95,.75)(1.05,.72)(1.2,.68)(1.6,.6)(1.7,.57)(1.85,.53)(2.05,.5)(2.2,.48)(2.4,.48)(2.6,.48)(2.8,.475)(3,.47)(3.25,.475)(3.5,.46)(3.75,.455)(4.05,.42)(4.6,.385)(5.05,.3)(5.2,.3)(5.35,.3)(5.55,.3)}
{(0,1)(.2,.97)(.4,.93)(.6,.89)(.9,.82)(1.1,.75)(1.4,.68)(1.7,.63)(2.1,.61)(2.3,.56)(2.6,.52)(3,.49)(3.2,.44)(3.4,.43)(9.7,.43)}
{(.05,1)(.15,.98)(.35,.94)(.6,.89)(.75,.86)(.95,.81)(1.1,.77)(1.3,.7)(1.5,.67)(1.7,.64)(1.85,.62)(2.05,.61)(2.3,.56)(2.5,.52)(2.75,.52)(2.95,.49)(3.3,.43)(4.25,.43)(4.45,.43)(4.9,.43)(5.1,.43)(5.3,.43)(6,.43)(6.2,.43)(6.45,.43)(8.8,.43)(9.7,.43)}
\end{axis}

% text around the axes
\begin{scope}[text=tickc]
\foreach \x in {213,235,260,281.6,303,324,346,371,392,418,444,465,490.5}{\T{\x}{17}{\fz{13.5}5}}
\T{512}{17}{\fz{13.5}4}\T{533}{17}{\fz{13.5}2}
\T[rotate=90]{152}{176}{\fz{15.3}Binomial Deviance}
\T{380}{389}{\fz{14.5}Log(\textit{λ})}
\T[rotate=90]{986}{167}{\fz{17.3}Coefficients}
\T{1268}{391}{\fz{14.5}Log(\textit{λ})}
\T[rotate=90]{12}{539}{\fz{14}CDRT15P1}
\T[rotate=90]{327}{545}{\fz{14}KCTD19}
\T[rotate=90]{642.4}{545}{\fz{14}ETV2}
\T[rotate=90]{961.5}{542}{\fz{14}LYSMD2}
\T[rotate=90]{1280}{543}{\fz{14}STRC}
\T{169}{683}{\fz{13.5}STAD}\T{482}{686}{\fz{13.5}STAD}\T{800}{685}{\fz{13.5}STAD}\T{1118}{684}{\fz{13.5}STAD}\T{1438}{683}{\fz{13.5}STAD}
\T{181}{1305.6}{\fz{13.8}Time (year)}\T{488}{1309.4}{\fz{13.8}Time (year)}\T{805}{1307.3}{\fz{13.8}Time (year)}\T{1130}{1312}{\fz{13.8}Time (year)}\T{1441.5}{1313.5}{\fz{11}Time (year)}
\T[rotate=90]{5.6}{1143}{\fz{13.6}Overall Survival}\T[rotate=90]{313}{1148}{\fz{13.6}Overall Survival}\T[rotate=90]{629}{1145}{\fz{13.6}Overall Survival}\T[rotate=90]{954}{1150}{\fz{13.6}Overall Survival}\T[rotate=90]{1271.3}{1162}{\fz{11}Overall Survival}
\T[anchor=west]{40}{1023}{\fz{13.6}CDRT15P1 Survival Curve in STAD (\textit{p} = 0.002)}
\T[anchor=west]{356}{1027}{\fz{13.6}KCTD19 Survival Curve in STAD (\textit{p} = 0.029)}
\T[anchor=west]{681}{1024.6}{\fz{13.6}ETV2 Survival Curve in STAD (\textit{p} = 0.009)}
\T[anchor=west]{997}{1030}{\fz{13.6}LYSMD2 Survival Curve in STAD (\textit{p} = 0.418)}
\T[anchor=west]{1318}{1031.5}{\fz{12.9}\textbf{STRC Survival Curve in STAD} (\textit{p} = 0.228)}
\end{scope}
\T[anchor=west,text=lysc]{1044.5}{19.4}{\fz{17.5}LYSMD2}
\T[anchor=west,text=kctc]{1044.5}{53.8}{\fz{17.5}KCTD19}
\T[anchor=west,text=cdrc]{1044.5}{98}{\fz{17.5}CDRT15P1}
\T[anchor=west,text=strc]{1031.6}{130.6}{\fz{17.5}STRC}
\T[anchor=west,text=etvc]{1044.5}{346}{\fz{17.5}ETV2}
\T{167}{449}{\fz{17}\textit{p} = 0.002}\T{480}{453.7}{\fz{17}\textit{p} < 0.001}\T{796}{452}{\fz{17}\textit{p} < 0.001}\T{1118}{452}{\fz{17}\textit{p} = 0.002}\T{1435}{451.4}{\fz{17}\textit{p} < 0.001}
\T{164}{745}{\fz{17}\textit{p} = 0.018}\T{485}{744.7}{\fz{17}\textit{p} = 0.008}\T{798.8}{743.6}{\fz{17}\textit{p} = 0.064}\T{1117}{750}{\fz{17}\textit{p} = 0.021}\T{1449}{749.3}{\fz{17}\textit{p} = 0.001}
\kmt{298}{1257}{186}{203}\kmt{605}{1261}{121}{268}\kmt{921}{1260}{245}{144}\kmt{1247}{1265}{117}{274}\kmt{1565}{1266}{188}{201}
\begin{scope}[font=\serif\fz{26}]
\T{17}{21}{a}\T{962}{22}{b}\T{17}{413}{c}\T{17}{704}{d}\T{17}{1013}{e}
\end{scope}
\end{tikzpicture}
\end{document}
